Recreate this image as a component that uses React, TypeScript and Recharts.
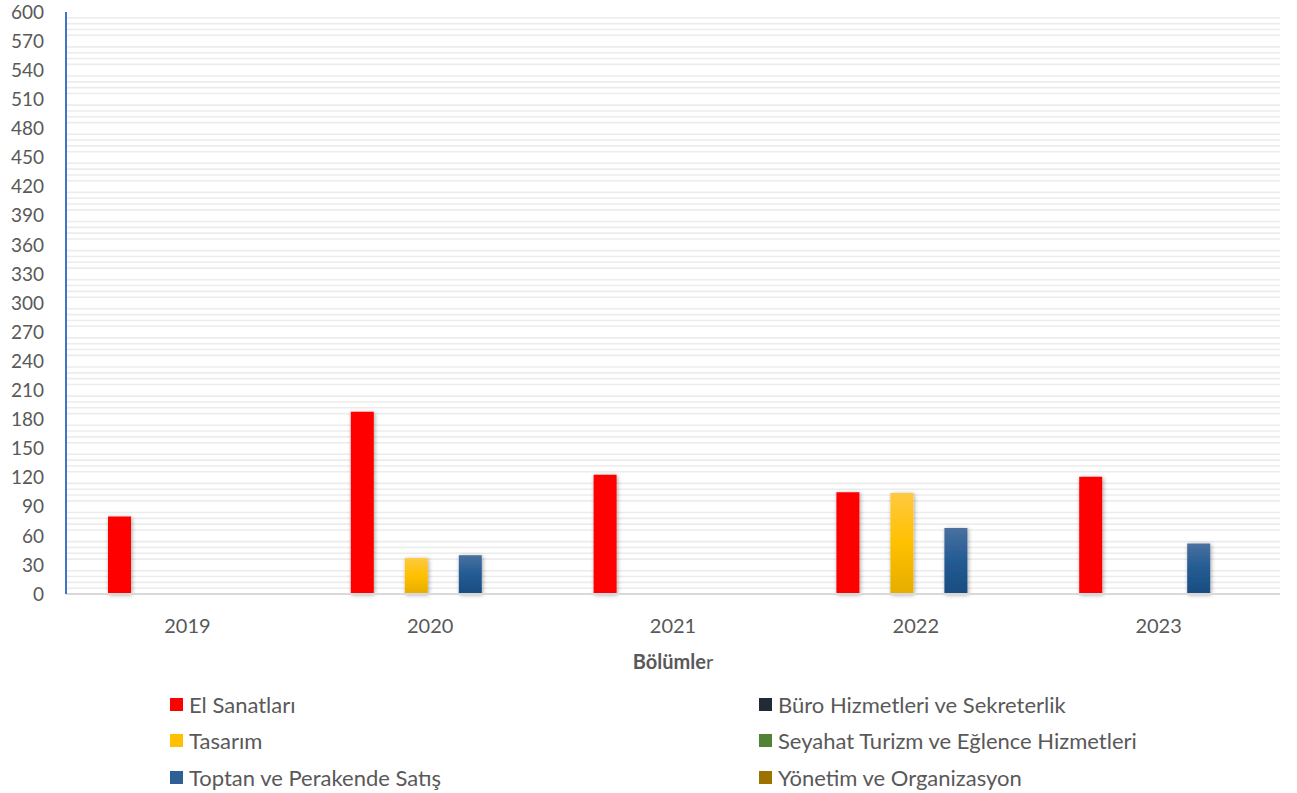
import React from "react"
import { Bar, BarChart, CartesianGrid, Legend, XAxis, YAxis } from "recharts"

const years = ["2019", "2020", "2021", "2022", "2023"]

const seriesNames = [
  "El Sanatları",
  "Büro Hizmetleri ve Sekreterlik",
  "Tasarım",
  "Seyahat Turizm ve Eğlence Hizmetleri",
  "Toptan ve Perakende Satış",
  "Yönetim ve Organizasyon",
]

const elSanatlari = [80, 188, 123, 105, 121]
const buroHizmetleri = [0, 0, 0, 0, 0]
const tasarim = [0, 37, 0, 104, 0]
const seyahatTurizm = [0, 0, 0, 0, 0]
const toptanPerakende = [0, 40, 0, 68, 52]
const yonetim = [0, 0, 0, 0, 0]

const yTicks = [0, 30, 60, 90, 120, 150, 180, 210, 240, 270, 300, 330, 360, 390, 420, 450, 480, 510, 540, 570, 600]

// thin grid every 6 units, the 30-steps are left blank like in the original
const gridValues = Array.from({ length: 100 }, (_, i) => (i + 1) * 6).filter((v) => v < 600 && v % 30 !== 0)

const seriesValues = [elSanatlari, buroHizmetleri, tasarim, seyahatTurizm, toptanPerakende, yonetim]
const keys = ["s0", "s1", "s2", "s3", "s4", "s5"]
const fills = ["#ff0000", "url(#gBuro)", "url(#gTasarim)", "url(#gSeyahat)", "url(#gToptan)", "url(#gYonetim)"]
const legendColors = ["#ff0000", "#222a35", "#ffc000", "#548235", "#2e5f95", "#9c7300"]

const chartData = years.map((year, i) => {
  const row: Record<string, string | number> = { year }
  seriesValues.forEach((vals, s) => {
    row[keys[s]] = vals[i]
  })
  return row
})

const FONT = "Lato, 'Open Sans', sans-serif"
const TEXT = "#595959"

function AxisTitle(props: any) {
  const { viewBox } = props
  const cx = viewBox.x + viewBox.width / 2
  return (
    <text x={cx} y={viewBox.y + 75} textAnchor="middle" fill={TEXT} fontFamily={FONT} fontSize={20}>
      <tspan fontWeight="bold">Bölümle</tspan>
      <tspan>r</tspan>
    </text>
  )
}

function LegendBox() {
  return (
    <div style={{ position: "relative", width: 1297, height: 110, fontFamily: FONT, fontSize: 22, color: TEXT }}>
      {seriesNames.map((name, i) => {
        const col = i % 2
        const row = Math.floor(i / 2)
        return (
          <div
            key={name}
            style={{
              position: "absolute",
              left: col === 0 ? 170 : 759,
              top: row * 36.5,
              display: "flex",
              alignItems: "center",
              whiteSpace: "nowrap",
              height: 24,
            }}
          >
            <span style={{ display: "inline-block", width: 13, height: 13, background: legendColors[i], marginRight: 6 }} />
            <span>{name}</span>
          </div>
        )
      })}
    </div>
  )
}

export default function App() {
  return (
    <div style={{ position: "absolute", left: 0, top: 0, background: "#fff" }}>
      <BarChart
        width={1297}
        height={793}
        data={chartData}
        margin={{ top: 12, right: 17, bottom: 99, left: 6 }}
        barSize={23}
        barGap={4}
      >
        <defs>
          <linearGradient id="gTasarim" x1="0" y1="0" x2="0" y2="1">
            <stop offset="0%" stopColor="#ffc93f" />
            <stop offset="50%" stopColor="#ffc000" />
            <stop offset="100%" stopColor="#e6ad00" />
          </linearGradient>
          <linearGradient id="gToptan" x1="0" y1="0" x2="0" y2="1">
            <stop offset="0%" stopColor="#4a70a0" />
            <stop offset="50%" stopColor="#225b93" />
            <stop offset="100%" stopColor="#1b4c7f" />
          </linearGradient>
          <linearGradient id="gBuro" x1="0" y1="0" x2="0" y2="1">
            <stop offset="0%" stopColor="#3a4350" />
            <stop offset="100%" stopColor="#1c232d" />
          </linearGradient>
          <linearGradient id="gSeyahat" x1="0" y1="0" x2="0" y2="1">
            <stop offset="0%" stopColor="#6a9a4a" />
            <stop offset="100%" stopColor="#4a752e" />
          </linearGradient>
          <linearGradient id="gYonetim" x1="0" y1="0" x2="0" y2="1">
            <stop offset="0%" stopColor="#b08a20" />
            <stop offset="100%" stopColor="#8c6800" />
          </linearGradient>
          <filter id="barShadow" x="-50%" y="-10%" width="200%" height="130%">
            <feDropShadow dx="1" dy="1" stdDeviation="2" floodColor="#000" floodOpacity="0.35" />
          </filter>
        </defs>
        <CartesianGrid vertical={false} horizontalValues={gridValues} stroke="#ececec" strokeWidth={1.6} />
        <XAxis
          dataKey="year"
          height={100}
          axisLine={{ stroke: "#d9d9d9", strokeWidth: 2 }}
          tickLine={false}
          tickSize={0}
          tickMargin={25}
          tick={{ fill: TEXT, fontFamily: FONT, fontSize: 20 }}
          label={<AxisTitle />}
        />
        <YAxis
          domain={[0, 600]}
          ticks={yTicks}
          interval={0}
          width={60}
          axisLine={{ stroke: "#4472c4", strokeWidth: 2 }}
          tickLine={false}
          tickSize={0}
          tickMargin={22}
          tick={{ fill: TEXT, fontFamily: FONT, fontSize: 19 }}
        />
        {keys.map((k, i) => (
          <Bar
            key={k}
            dataKey={k}
            name={seriesNames[i]}
            fill={fills[i]}
            filter="url(#barShadow)"
            isAnimationActive={false}
          />
        ))}
        <Legend
          layout="horizontal"
          verticalAlign="middle"
          align="center"
          content={() => <LegendBox />}
          wrapperStyle={{ position: "absolute", top: 692, left: 0, width: 1297 }}
        />
      </BarChart>
    </div>
  )
}
